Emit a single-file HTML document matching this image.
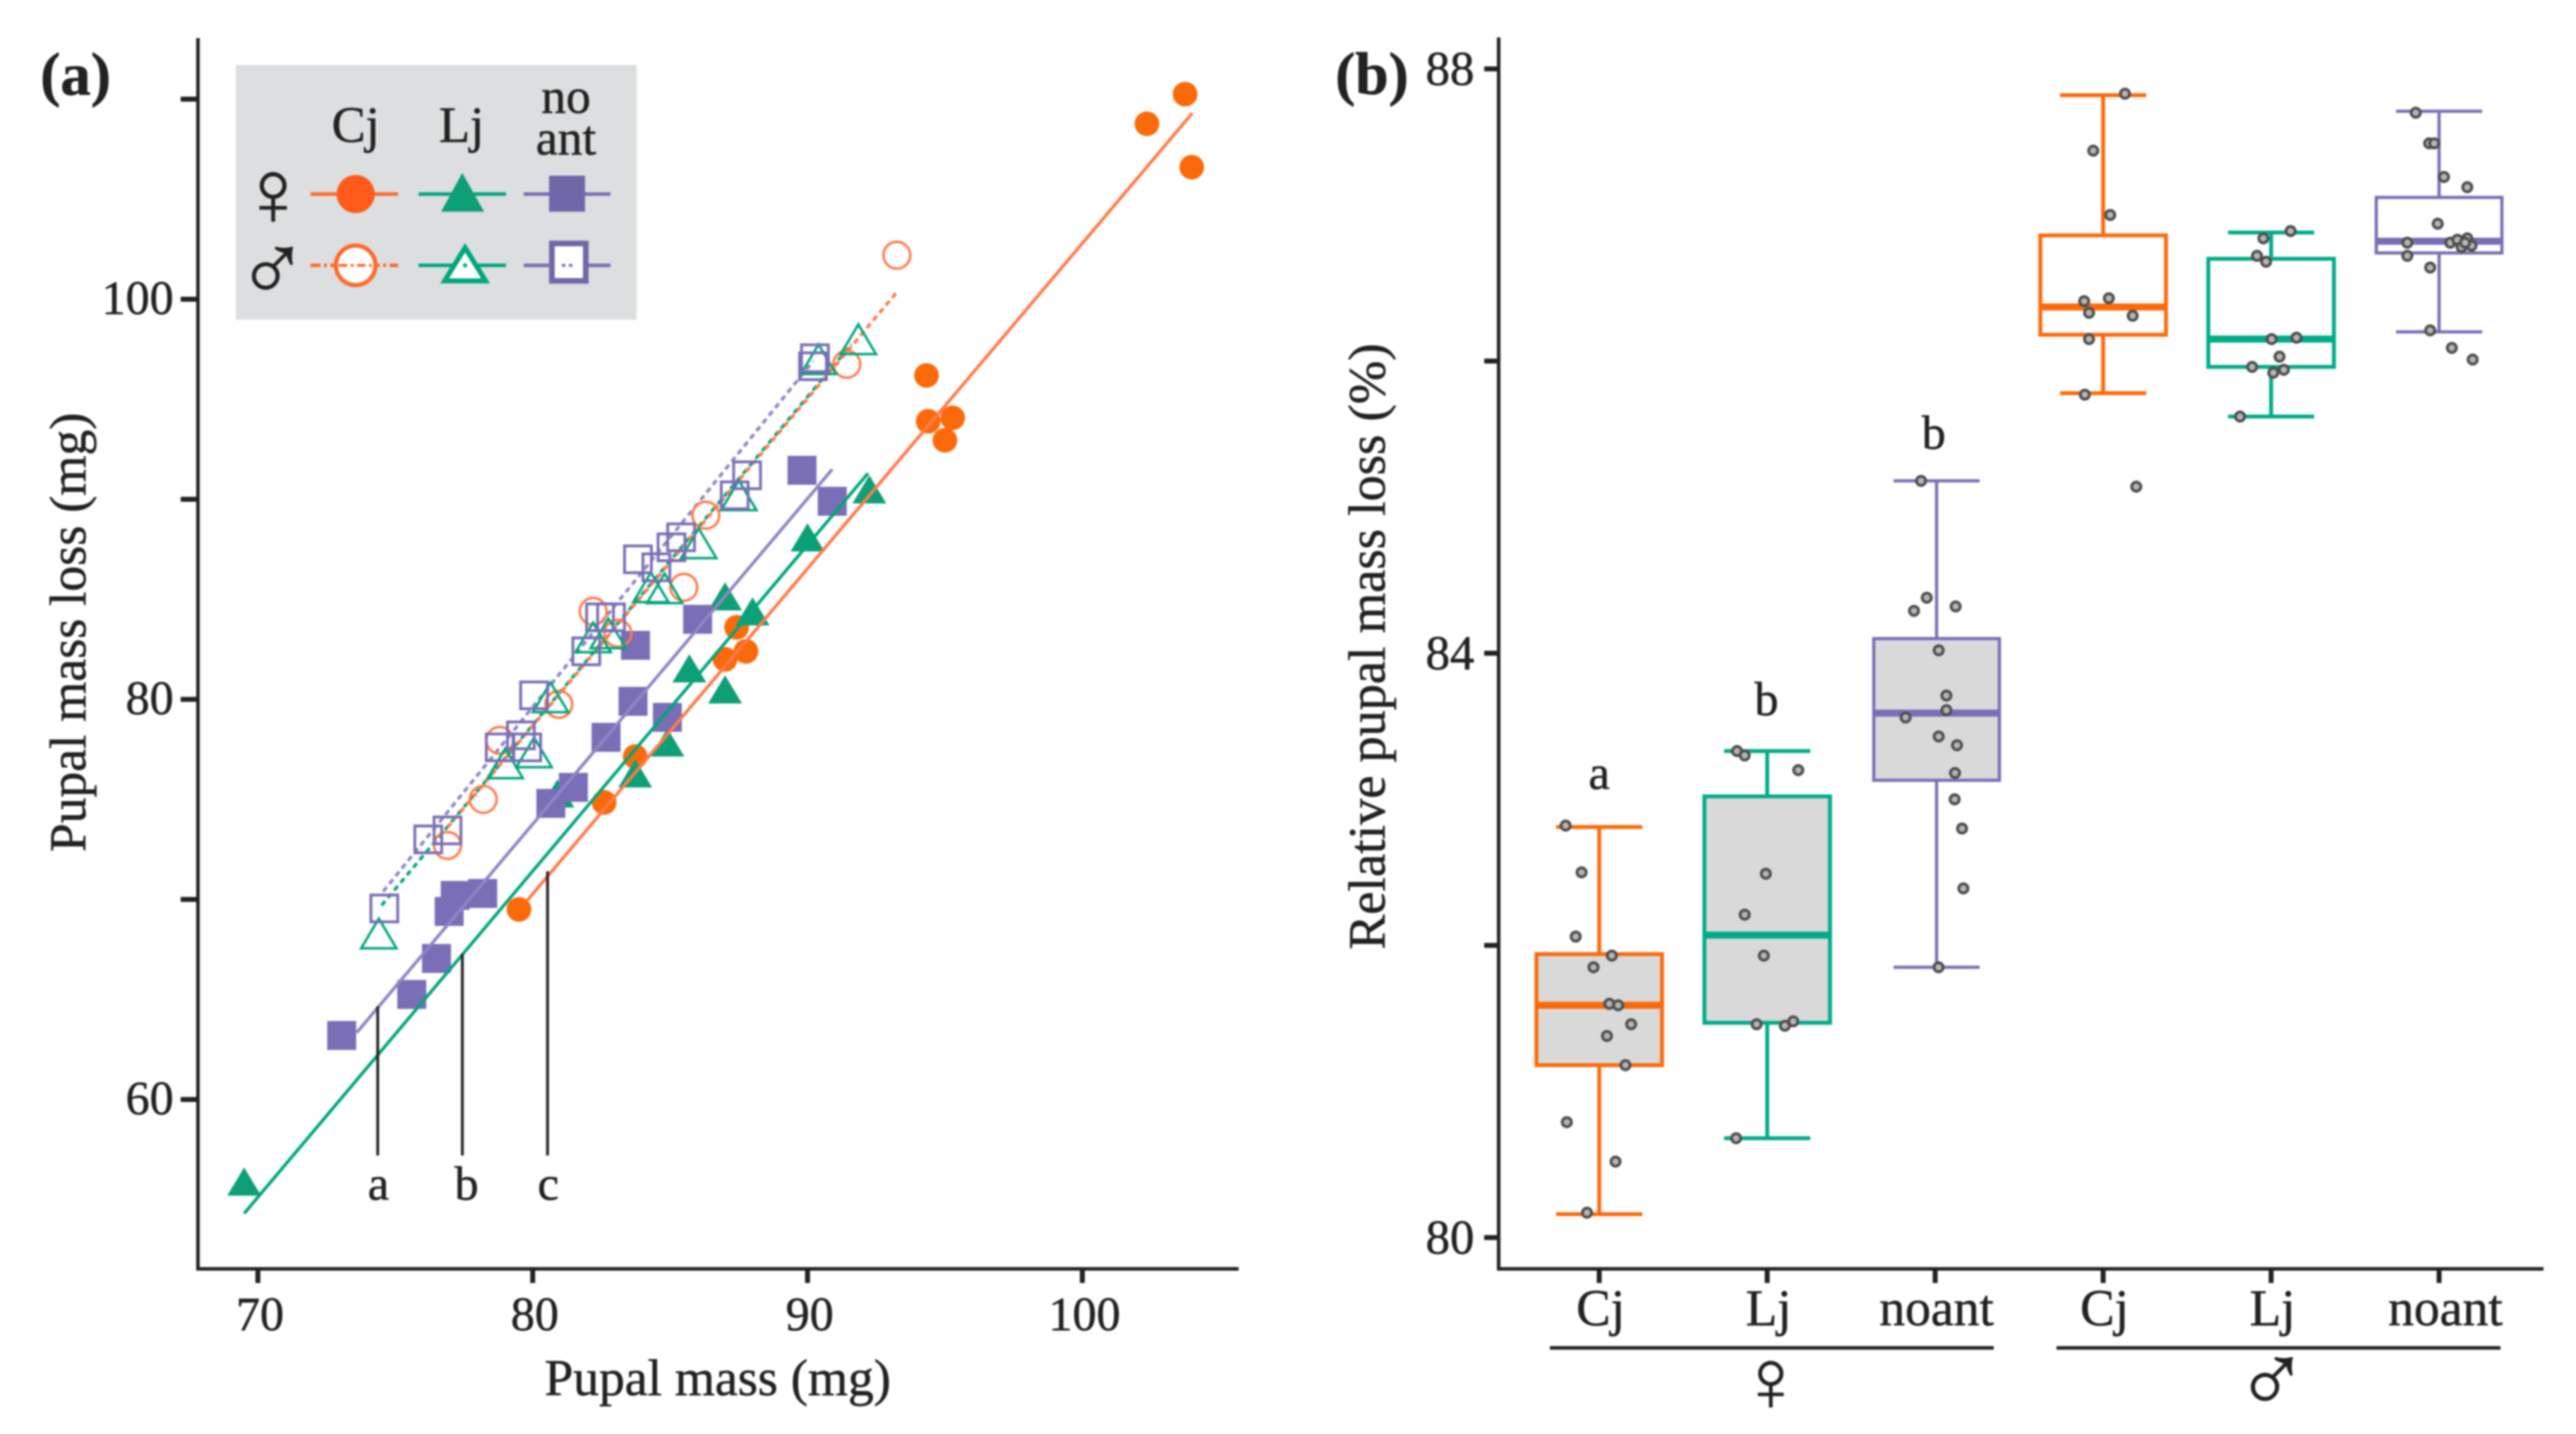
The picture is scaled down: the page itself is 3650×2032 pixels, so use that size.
<!DOCTYPE html>
<html lang="en">
<head>
<meta charset="utf-8">
<title>Pupal mass loss chart</title>
<style>
html,body{margin:0;padding:0;background:#fff;}
#chart{display:block;width:3650px;height:2032px;filter:blur(1.3px);font-family:"Liberation Serif",serif;fill:#222;}
#chart text{stroke:#222;stroke-width:0.7px;}
</style>
</head>
<body>
<svg id="chart" xmlns="http://www.w3.org/2000/svg" width="3650" height="2032" viewBox="0 0 3650 2032">
  <rect x="0" y="0" width="3650" height="2032" fill="#fff"/>

  <text x="57" y="134" font-size="86" font-weight="bold">(a)</text>
  <text x="1892" y="133" font-size="85" font-weight="bold">(b)</text>

  <g>
    <rect x="334" y="92" width="568" height="361" fill="#dcdee0"/>
    <text x="504" y="201" font-size="72" text-anchor="middle">Cj</text>
    <text x="654" y="201" font-size="72" text-anchor="middle">Lj</text>
    <text x="802" y="160" font-size="70" text-anchor="middle">no</text>
    <text x="802" y="219" font-size="70" text-anchor="middle">ant</text>
    <text x="387" y="319" font-size="133" text-anchor="middle">♀</text>
    <text x="386" y="427" font-size="137" text-anchor="middle">♂</text>

    <line x1="440" y1="275" x2="564" y2="275" stroke="#ff6a2a" stroke-width="5"/>
    <ellipse cx="504" cy="275" rx="27" ry="27" fill="#ff5a1a"/>
    <line x1="593" y1="275" x2="717" y2="275" stroke="#00a67c" stroke-width="5"/>
    <polygon points="655,245 686,300 625,300" fill="#0e9f77"/>
    <line x1="742" y1="275" x2="865" y2="275" stroke="#7a6eb4" stroke-width="5"/>
    <rect x="778" y="249" width="51" height="51" fill="#6f68a8"/>

    <line x1="440" y1="376" x2="564" y2="376" stroke="#ff6a2a" stroke-width="5" stroke-dasharray="14 5 4 5"/>
    <ellipse cx="504" cy="376" rx="28" ry="28" fill="#fff" stroke="#ff6a2a" stroke-width="6"/>
    <line x1="480" y1="376" x2="530" y2="376" stroke="#ff6a2a" stroke-width="4" stroke-dasharray="12 5 4 5"/>
    <line x1="593" y1="376" x2="717" y2="376" stroke="#00a67c" stroke-width="5"/>
    <polygon points="659,351 688,398 630,398" fill="#fff" stroke="#00a67c" stroke-width="7"/>
    <circle cx="659" cy="376" r="3" fill="#00a67c"/>
    <line x1="742" y1="376" x2="865" y2="376" stroke="#7a6eb4" stroke-width="5"/>
    <rect x="782" y="345" width="48" height="53" fill="#fff" stroke="#7068a8" stroke-width="8"/>
    <line x1="796" y1="376" x2="816" y2="376" stroke="#7a6eb4" stroke-width="4" stroke-dasharray="5 5"/>
  </g>

  <text transform="translate(121,896) rotate(-90)" font-size="73" text-anchor="middle">Pupal mass loss (mg)</text>
  <text x="1017" y="1977" font-size="73" text-anchor="middle">Pupal mass (mg)</text>
  <text transform="translate(1962,916) rotate(-90)" font-size="74" text-anchor="middle">Relative pupal mass loss (%)</text>

  <text x="2509" y="1999" font-size="125" text-anchor="middle">♀</text>
  <text x="3219" y="2002" font-size="140" text-anchor="middle">♂</text>
  <line x1="2196" y1="1910" x2="2825" y2="1910" stroke="#222" stroke-width="5"/>
  <line x1="2914" y1="1910" x2="3543" y2="1910" stroke="#222" stroke-width="5"/>

  <g id="panelA"></g>
  <g id="panelB"></g>
</svg>

<script>
// ---------- Panel (a) data ----------
const xTicksA = [70, 80, 90, 100];
const yTicksA = [60, 70, 80, 90, 100, 110];
const yLabelsA = [60, 80, 100];

const cjFemaleX = [79.5, 82.6, 83.73, 87.0, 87.76, 87.42, 94.33, 94.39, 95.28, 95.0, 102.35, 103.74, 103.98];
const cjFemaleY = [69.5, 74.85, 77.14, 82.0, 82.4, 83.6, 96.19, 93.9, 94.07, 92.95, 108.77, 110.25, 106.6];
const ljFemaleX = [69.5, 80.9, 83.73, 84.9, 85.7, 87.0, 88.0, 87.0, 90, 92.25];
const ljFemaleY = [55.9, 75.3, 76.3, 77.85, 81.55, 80.5, 84.4, 85.15, 88.1, 90.5];
const noFemaleX = [73.05, 75.6, 76.5, 76.96, 77.18, 78.18, 80.66, 81.48, 82.67, 83.65, 84.9, 83.74, 86, 89.8, 90.9];
const noFemaleY = [63.2, 65.25, 67.05, 69.4, 70.2, 70.3, 74.8, 75.6, 78.1, 79.9, 79.1, 82.7, 84, 91.45, 89.9];
const cjMaleX = [76.9, 78.2, 78.8, 80.95, 82.2, 83.1, 85.5, 86.3, 91.43, 93.25];
const cjMaleY = [72.7, 75, 77.95, 79.75, 84.4, 83.3, 85.6, 89.2, 96.75, 102.2];
const ljMaleX = [74.4, 79, 80.05, 80.65, 82.2, 82.75, 84.3, 84.8, 86.04, 87.5, 90.4, 91.85];
const ljMaleY = [68.3, 76.8, 77.35, 80.1, 83.1, 83.3, 85.6, 85.55, 87.8, 90.2, 97, 98];
const noMaleX = [74.6, 76.2, 76.9, 78.8, 79.57, 79.8, 80.05, 81.95, 82.45, 82.85, 83.83, 84.5, 85.05, 85.4, 87.35, 87.8, 90.2, 90.27];
const noMaleY = [69.55, 73, 73.45, 77.6, 78.2, 77.6, 80.2, 82.4, 84.1, 84.1, 87, 86.6, 87.6, 88.1, 90.2, 91.2, 96.65, 97.05];

const fitCjFemaleX = [79.8, 104.0];
const fitCjFemaleY = [69.95, 109.3];
const fitLjFemaleX = [69.5, 92.2];
const fitLjFemaleY = [54.3, 91.3];
const fitNoFemaleX = [73.6, 90.9];
const fitNoFemaleY = [63.35, 91.5];
const fitCjMaleX = [76.9, 93.25];
const fitCjMaleY = [73.6, 100.35];
const fitLjMaleX = [74.5, 91.6];
const fitLjMaleY = [69.7, 97.75];
const fitNoMaleX = [74.56, 90.2];
const fitNoMaleY = [70.4, 96.9];

const markerLetters = ['a', 'b', 'c'];
const markerX = [74.36, 77.44, 80.54];
const markerTopY = [64.66, 67.28, 71.4];
const markerBottomY = [57.2, 57.2, 57.2];
const markerLabelY = 55;

// ---------- Panel (b) data ----------
const categories = ['Cj', 'Lj', 'noant', 'Cj', 'Lj', 'noant'];
const yTicksB = [80, 82, 84, 86, 88];
const yLabelsB = [80, 84, 88];
const q1 = [81.18, 81.47, 83.13, 86.18, 85.96, 86.74];
const med = [81.59, 82.07, 83.59, 86.37, 86.15, 86.82];
const q3 = [81.94, 83.02, 84.10, 86.86, 86.70, 87.12];
const whiskLow = [80.16, 80.68, 81.85, 85.78, 85.62, 86.2];
const whiskHigh = [82.81, 83.33, 85.18, 87.82, 86.88, 87.71];
const sigLetters = ['a', 'b', 'b'];
const sigLetterY = [83.07, 83.575, 85.40];

const ptsCjF = [82.82, 82.50, 82.06, 81.93, 81.85, 81.60, 81.59, 81.46, 81.38, 81.18, 80.79, 80.52, 80.17];
const jitCjF = [-0.2, -0.105, -0.14, 0.075, -0.034, 0.06, 0.113, 0.19, 0.046, 0.156, -0.193, 0.097, -0.073];
const ptsLjF = [83.33, 83.30, 83.20, 82.49, 82.21, 81.93, 81.46, 81.45, 81.48, 80.68];
const jitLjF = [-0.18, -0.134, 0.185, -0.008, -0.134, -0.02, -0.063, 0.105, 0.155, -0.185];
const ptsNoF = [85.18, 84.38, 84.29, 84.32, 84.02, 83.71, 83.61, 83.56, 83.43, 83.37, 83.18, 83.0, 82.8, 82.39, 81.85];
const jitNoF = [-0.084, -0.05, -0.126, 0.122, 0.021, 0.067, 0.067, -0.176, 0.021, 0.13, 0.118, 0.116, 0.16, 0.168, 0.02];
const ptsCjM = [87.83, 87.44, 87.0, 86.41, 86.43, 86.33, 86.31, 86.15, 85.77, 85.14];
const jitCjM = [0.13, -0.059, 0.042, -0.113, 0.034, -0.084, 0.176, -0.084, -0.109, 0.197];
const ptsLjM = [86.89, 86.84, 86.72, 86.68, 86.15, 86.16, 86.03, 85.96, 85.92, 85.94, 85.62];
const jitLjM = [0.116, -0.046, -0.084, -0.03, 0.003, 0.151, 0.05, -0.113, 0.013, 0.076, -0.185];
const ptsNoM = [87.70, 87.49, 87.49, 87.26, 87.19, 86.94, 86.81, 86.81, 86.83, 86.84, 86.78, 86.79, 86.81, 86.72, 86.64, 86.21, 86.09, 86.01];
const jitNoM = [-0.139, -0.059, -0.029, 0.029, 0.168, -0.008, -0.189, 0.067, 0.109, 0.168, 0.134, 0.193, 0.155, -0.189, -0.053, -0.053, 0.076, 0.2];

// ---------- Scales and helpers ----------
const ORANGE = '#fb6a0a';
const GREEN = '#00a67c';
const TRI_GREEN = '#0e9f77';
const PURPLE = '#7a6eb6';
const SVGNS = 'http://www.w3.org/2000/svg';
const panelA = document.getElementById('panelA');
const panelB = document.getElementById('panelB');

function xA(v) { return 365.4 + (v - 70) * 38.94; }
function yA(v) { return 1558 - (v - 60) * 28.35; }
function xB(i) { return 2266 + i * 238; }
function yB(v) { return 1753.6 - (v - 80) * 207; }

function make(parent, tag, props, text) {
  const el = document.createElementNS(SVGNS, tag);
  Object.keys(props).forEach(function (k) { el.setAttribute(k, props[k]); });
  if (text !== undefined) el.textContent = text;
  parent.appendChild(el);
  return el;
}
function line(parent, x1, y1, x2, y2, stroke, width, dash) {
  const props = { x1: x1, y1: y1, x2: x2, y2: y2, stroke: stroke, 'stroke-width': width };
  if (dash) props['stroke-dasharray'] = dash;
  return make(parent, 'line', props);
}

// ---------- Panel (a) axes ----------
let el = line(panelA, 280.5, 54, 280.5, 1800, '#222', 5);


el = line(panelA, 278, 1798, 1755, 1798, '#222', 5);



yTicksA.forEach(function (t) {
  const tick = line(panelA, 256, yA(t), 280, yA(t), '#222', 7);
  
  
});
yLabelsA.forEach(function (t) {
  const lab = make(panelA, 'text', { x: 246, y: yA(t) + 21, 'font-size': 68, 'text-anchor': 'end' }, String(t));
  
  
});
xTicksA.forEach(function (t) {
  const tick = line(panelA, xA(t), 1798, xA(t), 1818, '#222', 7);
  
  
  const lab = make(panelA, 'text', { x: xA(t) + 3, y: 1885, 'font-size': 68, 'text-anchor': 'middle' }, String(t));
  
  
});

// ---------- Panel (a) marks ----------
function circle(g, x, y, open, name) {
  const c = open
    ? make(g, 'circle', { cx: xA(x), cy: yA(y), r: 19, fill: 'none', stroke: '#ff7a4a', 'stroke-width': 3.5 })
    : make(g, 'circle', { cx: xA(x), cy: yA(y), r: 17.5, fill: ORANGE });
  
  
}
function triangle(g, x, y, open, name) {
  const cx = xA(x), cy = yA(y);
  const w = open ? 25 : 24, h = open ? 21 : 20;
  const pts = cx + ',' + (cy - h) + ' ' + (cx + w) + ',' + (cy + h) + ' ' + (cx - w) + ',' + (cy + h);
  const t = open
    ? make(g, 'polygon', { points: pts, fill: 'none', stroke: GREEN, 'stroke-width': 3.5 })
    : make(g, 'polygon', { points: pts, fill: TRI_GREEN });
  
  
}
function square(g, x, y, open, name) {
  const cx = xA(x), cy = yA(y);
  const s = open ? make(g, 'rect', { x: cx - 19, y: cy - 19, width: 38, height: 38, fill: 'none', stroke: PURPLE, 'stroke-width': 4 })
                 : make(g, 'rect', { x: cx - 20.5, y: cy - 20.5, width: 41, height: 41, fill: PURPLE });
  
  
}

cjFemaleX.forEach(function (x, i) { circle(panelA, x, cjFemaleY[i], false, 'point-cj-female'); });
ljFemaleX.forEach(function (x, i) { triangle(panelA, x, ljFemaleY[i], false, 'point-lj-female'); });
noFemaleX.forEach(function (x, i) { square(panelA, x, noFemaleY[i], false, 'point-noant-female'); });

const dashPattern = '8 6';
el = line(panelA, xA(fitCjFemaleX[0]), yA(fitCjFemaleY[0]), xA(fitCjFemaleX[1]), yA(fitCjFemaleY[1]), '#ff7a4a', 4.5);


el = line(panelA, xA(fitNoFemaleX[0]), yA(fitNoFemaleY[0]), xA(fitNoFemaleX[1]), yA(fitNoFemaleY[1]), '#8f86c4', 4.5);


el = line(panelA, xA(fitLjFemaleX[0]), yA(fitLjFemaleY[0]), xA(fitLjFemaleX[1]), yA(fitLjFemaleY[1]), GREEN, 4.5);


el = line(panelA, xA(fitNoMaleX[0]), yA(fitNoMaleY[0]), xA(fitNoMaleX[1]), yA(fitNoMaleY[1]), '#8f86c4', 4.5, dashPattern);


el = line(panelA, xA(fitLjMaleX[0]), yA(fitLjMaleY[0]), xA(fitLjMaleX[1]), yA(fitLjMaleY[1]), GREEN, 4.5, dashPattern);


el = line(panelA, xA(fitCjMaleX[0]), yA(fitCjMaleY[0]), xA(fitCjMaleX[1]), yA(fitCjMaleY[1]), '#ff7a4a', 4.5, dashPattern);



cjMaleX.forEach(function (x, i) { circle(panelA, x, cjMaleY[i], true, 'point-cj-male'); });
ljMaleX.forEach(function (x, i) { triangle(panelA, x, ljMaleY[i], true, 'point-lj-male'); });
noMaleX.forEach(function (x, i) { square(panelA, x, noMaleY[i], true, 'point-noant-male'); });

markerLetters.forEach(function (letter, i) {
  const m = line(panelA, xA(markerX[i]), yA(markerTopY[i]), xA(markerX[i]), yA(markerBottomY[i]), '#222', 4);
  
  
  const lab = make(panelA, 'text', { x: xA(markerX[i]) + (letter === 'b' ? 6 : 1), y: yA(markerLabelY) + 0, 'font-size': 68, 'text-anchor': 'middle' }, letter);
  
  
});

// ---------- Panel (b) axes ----------
el = line(panelB, 2123.5, 53, 2123.5, 1800, '#222', 5);


el = line(panelB, 2121, 1798, 3604, 1798, '#222', 5);



yTicksB.forEach(function (t) {
  const tick = line(panelB, 2103, yB(t), 2123, yB(t), '#222', 7);
  
  
});
yLabelsB.forEach(function (t) {
  const lab = make(panelB, 'text', { x: 2089, y: yB(t) + 23, 'font-size': 69, 'text-anchor': 'end' }, String(t));
  
  
});
categories.forEach(function (c, i) {
  const tick = line(panelB, xB(i), 1798, xB(i), 1818, '#222', 7);
  
  
  const lab = make(panelB, 'text', { x: xB(i) + (i === 5 ? 9 : 2), y: 1878, 'font-size': 73, 'text-anchor': 'middle' }, c);
  
  
});

// ---------- Panel (b) boxes ----------
const boxColors = [ORANGE, '#00ab88', PURPLE, ORANGE, '#00ab88', PURPLE];
const ptValues = [ptsCjF, ptsLjF, ptsNoF, ptsCjM, ptsLjM, ptsNoM];
const ptJitter = [jitCjF, jitLjF, jitNoF, jitCjM, jitLjM, jitNoM];

categories.forEach(function (c, i) {
  const cx = xB(i) + (i === 2 ? 2 : 0);
  const col = boxColors[i];
  const boxW = 178, capW = 122;
  const sw = (i === 2 || i === 5) ? 4.5 : 5.5;
  const wHi = line(panelB, cx, yB(whiskHigh[i]), cx, yB(q3[i]), col, sw);
  
  
  const wLo = line(panelB, cx, yB(q1[i]), cx, yB(whiskLow[i]), col, sw);
  
  
  const capHi = line(panelB, cx - capW / 2, yB(whiskHigh[i]), cx + capW / 2, yB(whiskHigh[i]), col, sw);
  
  
  const capLo = line(panelB, cx - capW / 2, yB(whiskLow[i]), cx + capW / 2, yB(whiskLow[i]), col, sw);
  
  
  const box = make(panelB, 'rect', {
    x: cx - boxW / 2, y: yB(q3[i]), width: boxW, height: yB(q1[i]) - yB(q3[i]),
    fill: i < 3 ? '#d9d9d9' : 'none', stroke: col, 'stroke-width': sw
  });
  
  
  const m = line(panelB, cx - boxW / 2, yB(med[i]), cx + boxW / 2, yB(med[i]), col, 10);
  
  
  ptValues[i].forEach(function (v, k) {
    const p = make(panelB, 'circle', {
      cx: xB(i) + ptJitter[i][k] * 238, cy: yB(v), r: 6.5,
      fill: '#b5b5b5', stroke: '#4d4d4d', 'stroke-width': 4
    });
    
    
  });
});

sigLetters.forEach(function (s, i) {
  const t = make(panelB, 'text', { x: xB(i) + (i === 2 ? -2 : i === 1 ? -1 : 0), y: yB(sigLetterY[i]), 'font-size': 68, 'text-anchor': 'middle' }, s);
  
  
});
</script>
</body>
</html>
